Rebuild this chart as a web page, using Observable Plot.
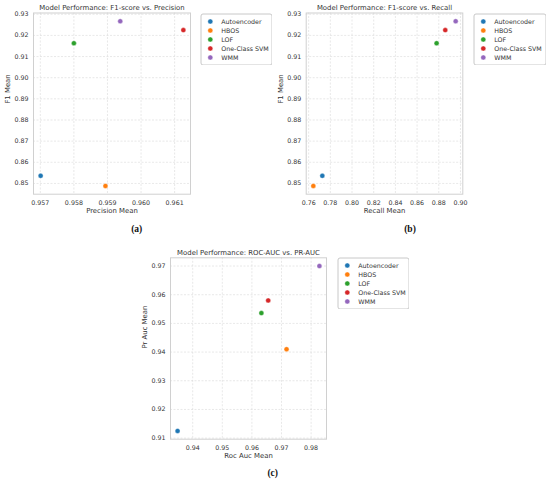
<!DOCTYPE html>
<html>
<head>
<meta charset="utf-8">
<script src="https://cdn.jsdelivr.net/npm/d3@7"></script>
<script src="https://cdn.jsdelivr.net/npm/@observablehq/plot@0.6"></script>
<style>
  html, body { margin: 0; padding: 0; background: #fff; }
  #root { position: relative; width: 550px; height: 482px; overflow: hidden; background: #fff; }
  .pane { position: absolute; line-height: 0; }
  .cap { position: absolute; font-family: "Liberation Serif", serif; font-weight: bold; font-size: 9.5px; color: #111; transform: translate(-50%, -50%); }
</style>
</head>
<body>
<div id="root"></div>
<script>
// ---- data ----
const models = ["Autoencoder", "HBOS", "LOF", "One-Class SVM", "WMM"];
const colors = ["#1f77b4", "#ff7f0e", "#2ca02c", "#d62728", "#9467bd"];
const precisionMean = [0.95701, 0.95894, 0.95800, 0.96126, 0.95938];
const recallMean    = [0.7726, 0.7643, 0.8780, 0.8860, 0.8956];
const f1Mean        = [0.8536, 0.8488, 0.9163, 0.9225, 0.9267];
const rocAucMean    = [0.9349, 0.9717, 0.9632, 0.9655, 0.9828];
const prAucMean     = [0.9125, 0.9410, 0.9536, 0.9580, 0.9700];

const ticksPrecision = [0.957, 0.958, 0.959, 0.960, 0.961];
const ticksRecall    = [0.76, 0.78, 0.80, 0.82, 0.84, 0.86, 0.88, 0.90];
const ticksF1        = [0.85, 0.86, 0.87, 0.88, 0.89, 0.90, 0.91, 0.92, 0.93];
const ticksRoc       = [0.94, 0.95, 0.96, 0.97, 0.98];
const ticksPr        = [0.91, 0.92, 0.93, 0.94, 0.95, 0.96, 0.97];

const titles = [
  "Model Performance: F1-score vs. Precision",
  "Model Performance: F1-score vs. Recall",
  "Model Performance: ROC-AUC vs. PR-AUC"
];
const captions = ["(a)", "(b)", "(c)"];

// ---- helpers ----
const root = document.getElementById("root");
const TXT = "#333";
const colorScale = {domain: models, range: colors};
function pad(vals) {
  const [a, b] = d3.extent(vals);
  const r = b - a;
  return [a - 0.05 * r, b + 0.05 * r];
}
function place(node, left, top) {
  const d = document.createElement("div");
  d.className = "pane";
  d.style.left = left + "px";
  d.style.top = top + "px";
  d.appendChild(node);
  root.appendChild(d);
}
function scatter(o) {
  const rows = models.map((m, i) => ({model: m, x: o.xs[i], y: o.ys[i]}));
  return Plot.plot({
    width: o.width, height: o.height,
    marginLeft: o.ml, marginRight: o.mr, marginTop: o.mt, marginBottom: o.mb,
    style: {fontFamily: "DejaVu Sans", fontSize: "6.3px", background: "transparent", color: TXT},
    x: {domain: pad(o.xs), axis: null},
    y: {domain: pad(o.ys), axis: null},
    color: colorScale,
    marks: [
      Plot.gridX(o.xt, {stroke: "#d8d8d8", strokeOpacity: 1, strokeWidth: 0.6, strokeDasharray: "2,1.5"}),
      Plot.gridY(o.yt, {stroke: "#d8d8d8", strokeOpacity: 1, strokeWidth: 0.6, strokeDasharray: "2,1.5"}),
      Plot.frame({stroke: "#d0d0d0", strokeWidth: 1}),
      Plot.axisX(o.xt, {tickSize: 0, tickPadding: 6, tickFormat: d3.format(o.xf), label: null, color: TXT, fontSize: 6.3}),
      Plot.axisY(o.yt, {tickSize: 0, tickPadding: 5, tickFormat: d3.format(".2f"), label: null, color: TXT, fontSize: 6.3}),
      Plot.dot(rows, {x: "x", y: "y", fill: "model", r: 2.5, stroke: "white", strokeWidth: 0.4}),
      Plot.text([o.title], {frameAnchor: "top", dy: -3, lineAnchor: "bottom", fontSize: 6.9, fill: TXT}),
      Plot.text([o.xl], {frameAnchor: "bottom", dy: 16.8, lineAnchor: "middle", fontSize: 6.9, fill: TXT}),
      Plot.text([o.yl], {frameAnchor: "left", dx: -25.5, rotate: -90, lineAnchor: "middle", fontSize: 6.9, fill: TXT})
    ]
  });
}
function legendPlot(w, h) {
  return Plot.plot({
    width: w, height: h, margin: 0,
    style: {fontFamily: "DejaVu Sans", fontSize: "6.3px", background: "transparent"},
    x: {type: "linear", domain: [0, w], range: [0, w], axis: null},
    y: {type: "point", domain: models, range: [7.2, 45.6], padding: 0, axis: null},
    color: colorScale,
    marks: [
      Plot.frame({fill: "white", stroke: "#c8c8c8", strokeWidth: 1, rx: 2, inset: 0.5}),
      Plot.dot(models, {x: () => 9.8, y: d => d, fill: d => d, r: 2.5, stroke: "white", strokeWidth: 0.4}),
      Plot.text(models, {x: () => 20.8, y: d => d, text: d => d, textAnchor: "start", fill: TXT, fontSize: 6.3})
    ]
  });
}

// Panel (a)
place(scatter({
  width: 275, height: 225, ml: 33, mr: 85, mt: 12.5, mb: 31.3,
  xs: precisionMean, ys: f1Mean, xt: ticksPrecision, yt: ticksF1, xf: ".3f",
  title: titles[0], xl: "Precision Mean", yl: "F1 Mean"
}), 0, 0);
// Panel (b)
place(scatter({
  width: 275, height: 225, ml: 30.7, mr: 87.7, mt: 12.5, mb: 31.3,
  xs: recallMean, ys: f1Mean, xt: ticksRecall, yt: ticksF1, xf: ".2f",
  title: titles[1], xl: "Recall Mean", yl: "F1 Mean"
}), 275, 0);
// Panel (c)
place(scatter({
  width: 200, height: 222, ml: 30, mr: 14, mt: 17.3, mb: 23.3,
  xs: rocAucMean, ys: prAucMean, xt: ticksRoc, yt: ticksPr, xf: ".2f",
  title: titles[2], xl: "Roc Auc Mean", yl: "Pr Auc Mean"
}), 140, 240);

// legends
place(legendPlot(72, 52), 200, 13.3);
place(legendPlot(73, 52), 473.3, 13);
place(legendPlot(72, 52), 336.7, 257.3);

// captions
[[captions[0], 136.7, 229], [captions[1], 410, 229], [captions[2], 272.7, 473]].forEach(([t, x, y]) => {
  const d = document.createElement("div");
  d.className = "cap";
  d.textContent = t;
  d.style.left = x + "px";
  d.style.top = y + "px";
  root.appendChild(d);
});
</script>
</body>
</html>
